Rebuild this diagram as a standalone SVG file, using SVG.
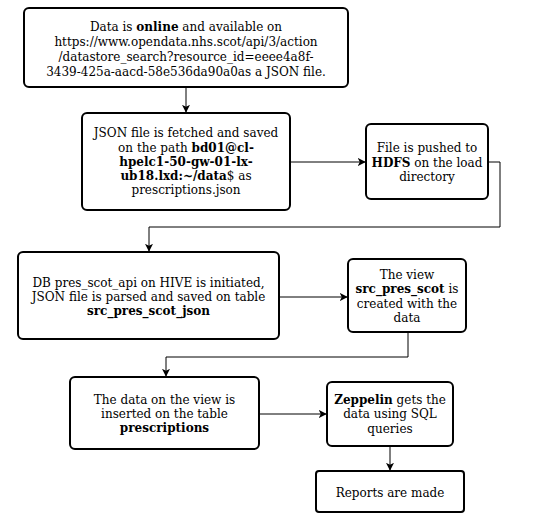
<svg xmlns="http://www.w3.org/2000/svg" width="552" height="530" viewBox="0 0 552 530">
<style>
.box{fill:#fff;stroke:#000;stroke-width:2}
.t{font-family:"DejaVu Serif",serif;font-size:12px;fill:#000;text-anchor:middle}
.b{font-weight:bold}
.c{fill:none;stroke:#000;stroke-width:1}
</style>
<defs>
<marker id="ar" viewBox="0 0 10 10" refX="9" refY="5" markerWidth="8" markerHeight="8" markerUnits="userSpaceOnUse" orient="auto">
<path d="M0,0 L10,5 L0,10 L2.5,5 Z" fill="#000"/>
</marker>
</defs>
<rect width="552" height="530" fill="#fff"/>
<g id="connectors">
<path class="c" d="M186,87 V112" marker-end="url(#ar)"/>
<path class="c" d="M290,162 H365" marker-end="url(#ar)"/>
<path class="c" d="M488,162 H500 V227 H149 V251" marker-end="url(#ar)"/>
<path class="c" d="M279,297 H347" marker-end="url(#ar)"/>
<path class="c" d="M408,332 V357 H166 V376" marker-end="url(#ar)"/>
<path class="c" d="M259,414 H326" marker-end="url(#ar)"/>
<path class="c" d="M390,446 V470" marker-end="url(#ar)"/>
</g>
<g id="n1">
<rect class="box" x="24" y="8" width="324" height="79" rx="5"/>
<text class="t"><tspan x="186" y="31">Data is <tspan class="b">online</tspan> and available on</tspan><tspan x="186" y="46">https://www.opendata.nhs.scot/api/3/action</tspan><tspan x="186" y="61">/datastore_search?resource_id=eeee4a8f-</tspan><tspan x="186" y="76">3439-425a-aacd-58e536da90a0as a JSON file.</tspan></text>
</g>
<g id="n2">
<rect class="box" x="82" y="113" width="208" height="97" rx="5"/>
<text class="t"><tspan x="186" y="137">JSON file is fetched and saved</tspan><tspan x="186" y="152">on the path <tspan class="b">bd01@cl-</tspan></tspan><tspan x="186" y="166" class="b">hpelc1-50-gw-01-lx-</tspan><tspan x="186" y="180"><tspan class="b">ub18.lxd:~/data</tspan>$ as</tspan><tspan x="186" y="194">prescriptions.json</tspan></text>
</g>
<g id="n3">
<rect class="box" x="366" y="124" width="122" height="75" rx="5"/>
<text class="t"><tspan x="427" y="152">File is pushed to</tspan><tspan x="427" y="167"><tspan class="b">HDFS</tspan> on the load</tspan><tspan x="427" y="181">directory</tspan></text>
</g>
<g id="n4">
<rect class="box" x="18" y="252" width="261" height="87" rx="5"/>
<text class="t"><tspan x="148.5" y="287">DB pres_scot_api on HIVE is initiated,</tspan><tspan x="148.5" y="301">JSON file is parsed and saved on table</tspan><tspan x="148.5" y="315" class="b">src_pres_scot_json</tspan></text>
</g>
<g id="n5">
<rect class="box" x="348" y="259" width="118" height="73" rx="5"/>
<text class="t"><tspan x="407" y="279">The view</tspan><tspan x="407" y="293"><tspan class="b">src_pres_scot</tspan> is</tspan><tspan x="407" y="308">created with the</tspan><tspan x="407" y="322">data</tspan></text>
</g>
<g id="n6">
<rect class="box" x="70" y="377" width="189" height="72" rx="5"/>
<text class="t"><tspan x="164.5" y="404">The data on the view is</tspan><tspan x="164.5" y="418">inserted on the table</tspan><tspan x="164.5" y="432" class="b">prescriptions</tspan></text>
</g>
<g id="n7">
<rect class="box" x="327" y="382" width="126" height="64" rx="5"/>
<text class="t"><tspan x="390" y="404"><tspan class="b">Zeppelin</tspan> gets the</tspan><tspan x="390" y="418">data using SQL</tspan><tspan x="390" y="433">queries</tspan></text>
</g>
<g id="n8">
<rect class="box" x="316" y="471" width="148" height="41" rx="3"/>
<text class="t"><tspan x="390" y="497">Reports are made</tspan></text>
</g>
</svg>
